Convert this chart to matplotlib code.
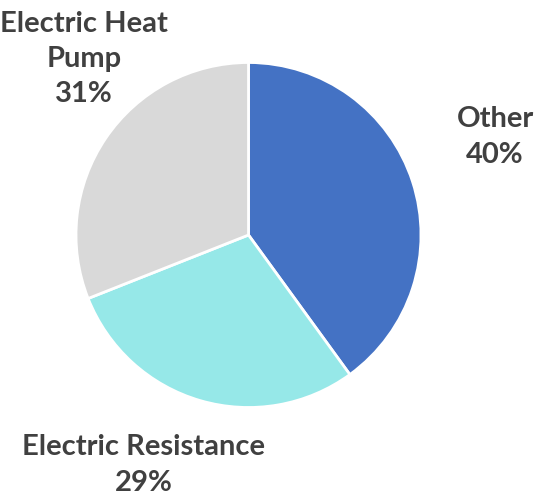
import numpy as np
import matplotlib.pyplot as plt

labels = ["Other", "Electric Resistance", "Electric Heat\nPump"]
shares = [40, 29, 31]
colors = ["#4472C4", "#96E8E8", "#D9D9D9"]
label_pos = [(495, 360), (144, 32), (84, 438)]

W, H = 538, 497
fig = plt.figure(figsize=(W / 100, H / 100), dpi=100)
ax = fig.add_axes([0, 0, 1, 1])

ax.pie(shares, colors=colors, startangle=90, counterclock=False,
       center=(248.5, 262), radius=172.5,
       wedgeprops=dict(edgecolor="white", linewidth=2))

for lab, val, (x, y) in zip(labels, shares, label_pos):
    ax.text(x, y, f"{lab}\n{val}%", ha="center", va="center",
            fontsize=21, fontweight="bold", family="Lato",
            color="#404040", linespacing=1.45)

# pie() resets the limits, so put them back afterwards
ax.set_xlim(0, W)
ax.set_ylim(0, H)
ax.set_aspect("equal")
ax.axis("off")

fig.savefig("out.png", dpi=100)
